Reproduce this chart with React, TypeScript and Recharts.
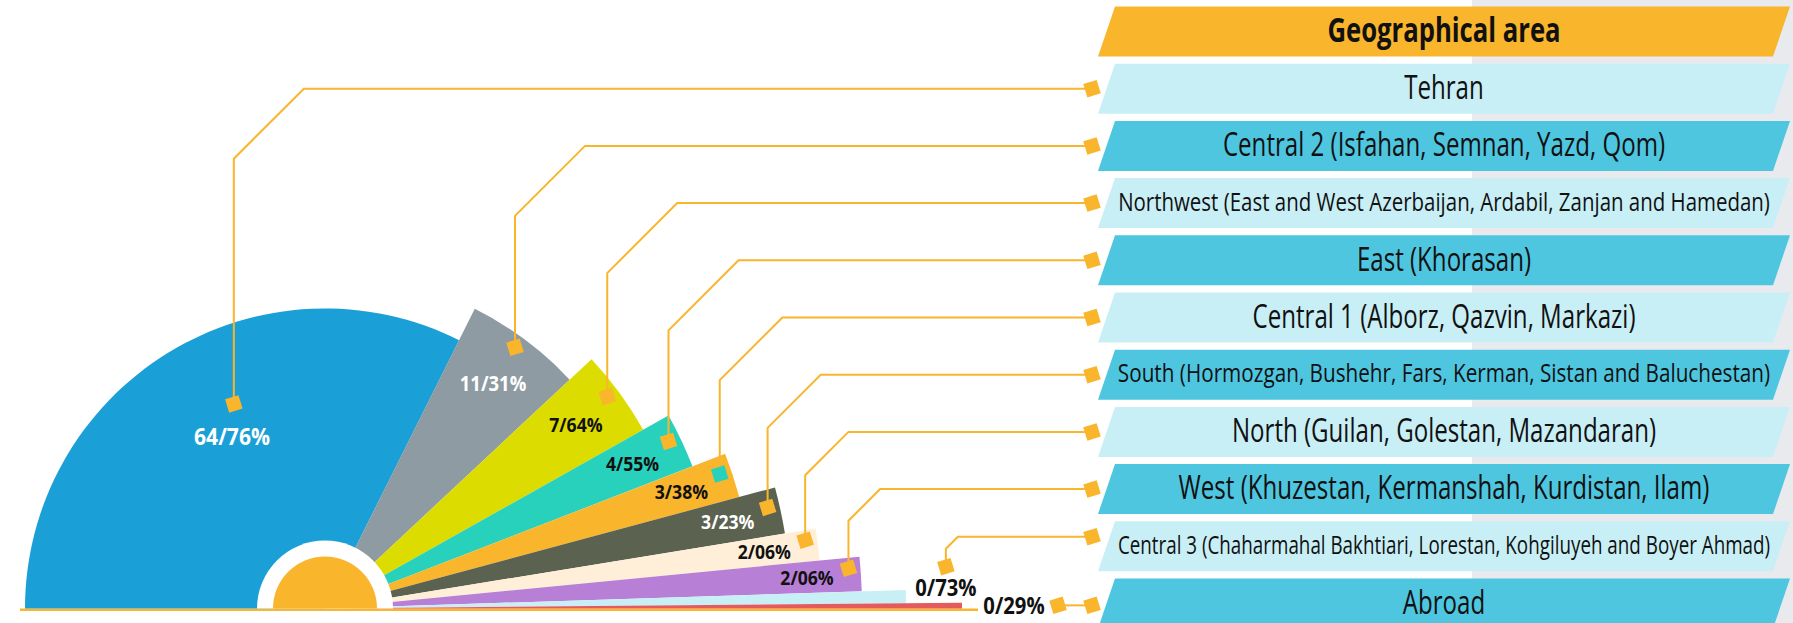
import React, { useLayoutEffect, useRef, useState } from 'react';
import { PieChart, Pie, Cell } from 'recharts';

// share of respondents by geographical area (decimal separator shown as "/")
const AREAS = [
  'Tehran',
  'Central 2 (Isfahan, Semnan, Yazd, Qom)',
  'Northwest (East and West Azerbaijan, Ardabil, Zanjan and Hamedan)',
  'East (Khorasan)',
  'Central 1 (Alborz, Qazvin, Markazi)',
  'South (Hormozgan, Bushehr, Fars, Kerman, Sistan and Baluchestan)',
  'North (Guilan, Golestan, Mazandaran)',
  'West (Khuzestan, Kermanshah, Kurdistan, Ilam)',
  'Central 3 (Chaharmahal Bakhtiari, Lorestan, Kohgiluyeh and Boyer Ahmad)',
  'Abroad',
];
const SHARES = [64.76, 11.31, 7.64, 4.55, 3.38, 3.23, 2.06, 2.06, 0.73, 0.29];
const HEADER_TITLE = 'Geographical area';

// styling
const SECTOR_COLORS = ['#1a9fd6', '#8e9ba2', '#dcdc00', '#27d1bb', '#f9b52c', '#5b6350', '#ffefd8', '#b77fd6', '#c9eff6', '#e35b5b'];
const SECTOR_RADII = [300, 335, 365, 394, 429, 466, 497, 537, 581, 637];
const LABEL_SIZES = [24, 21, 20, 20, 20, 20, 20, 20, 23, 23];
const WHITE_LABELS = [0, 1, 5];

const W = 1793;
const H = 623;
const CX = 325;
const CY = 608.5;

const ORANGE = '#f9b52c';
const LIGHT = '#c9eff6';
const DARK = '#4fc6e0';
const FONT = "'Open Sans', 'Noto Sans', sans-serif";

const TABLE_X = 1098;
const SLANT = 17;
const ROW_W = 675;
const ROW_TOP = 6.5;
const PITCH = 57.2;
const ROW_H = 50;
const LINE_END = 1086;
const PIN_X = 1092;
const LONG_TEXT = 652; // long row labels are squeezed to this width

const pieData = AREAS.map((name, i) => ({ name, value: SHARES[i] }));

const RAD = Math.PI / 180;
const rowCenter = (k: number) => ROW_TOP + k * PITCH + ROW_H / 2;
const polar = (cx: number, cy: number, r: number, a: number): [number, number] => [
  cx + r * Math.cos(a * RAD),
  cy - r * Math.sin(a * RAD),
];
const fmt = (v: number) => `${v.toFixed(2).replace('.', '/')}%`;

function Pin({ x, y, fill = ORANGE }: { x: number; y: number; fill?: string }) {
  return <rect x={-7} y={-7} width={14} height={14} fill={fill} transform={`translate(${x},${y}) rotate(-17)`} />;
}

function Annotation(props: any) {
  const { cx, cy, midAngle, index, value } = props;
  const R = SECTOR_RADII[index];
  let lx: number, ly: number, mx: number, my: number;
  if (index === 0) {
    [lx, ly] = polar(cx, cy, R - 104, midAngle - 3.4);
    [mx, my] = polar(cx, cy, R - 76, midAngle - 7.7);
  } else if (index < 8) {
    [lx, ly] = polar(cx, cy, R - 54, midAngle);
    [mx, my] = polar(cx, cy, R - 12, midAngle + 0.7);
  } else if (index === 8) {
    [lx, ly] = polar(cx, cy, R + 40, midAngle);
    ly -= 8;
    mx = lx;
    my = ly - 21;
  } else {
    [lx, ly] = polar(cx, cy, R + 52, midAngle);
    mx = lx + 44;
    my = ly;
  }
  let d: string;
  let lineY: number;
  if (index === 9) {
    lineY = my;
    d = `M${mx},${my}H${LINE_END}`;
  } else {
    lineY = Math.min(rowCenter(index + 1), my - 30);
    const b = Math.min(70, 0.4 * (my - lineY));
    d = `M${mx},${my}V${lineY + b}L${mx + b},${lineY}H${LINE_END}`;
  }
  const F = LABEL_SIZES[index];
  return (
    <g>
      <path d={d} stroke={ORANGE} strokeWidth={2} fill="none" />
      <Pin x={mx} y={my} fill={index === 4 ? SECTOR_COLORS[3] : ORANGE} />
      <Pin x={PIN_X} y={lineY} />
      <text
        transform={`translate(${lx},${ly + 0.357 * F}) scale(0.88,1)`}
        textAnchor="middle"
        fontSize={F}
        fontWeight={700}
        fontFamily={FONT}
        fill={WHITE_LABELS.includes(index) ? '#ffffff' : '#111111'}
      >
        {fmt(value)}
      </text>
    </g>
  );
}

// squeezes a label horizontally so it spans the given width
function FitText({ x, y, width, fontSize, children }: { x: number; y: number; width: number; fontSize: number; children: string }) {
  const ref = useRef<SVGTextElement>(null);
  const [sx, setSx] = useState(0.73);
  useLayoutEffect(() => {
    const el = ref.current;
    if (!el) return;
    const natural = el.getComputedTextLength();
    if (natural > 0) setSx(width / natural);
  }, [width, children]);
  return (
    <text
      ref={ref}
      transform={`translate(${x},${y}) scale(${sx},1)`}
      textAnchor="middle"
      fontSize={fontSize}
      fontWeight={500}
      fontFamily={FONT}
      fill="#111111"
    >
      {children}
    </text>
  );
}

function Table() {
  const rows = [HEADER_TITLE, ...AREAS];
  return (
    <>
      {rows.map((text, k) => {
        const top = ROW_TOP + k * PITCH;
        const bottom = top + ROW_H;
        const pts = `${TABLE_X + SLANT},${top} ${TABLE_X + SLANT + ROW_W},${top} ${TABLE_X + ROW_W},${bottom} ${TABLE_X},${bottom}`;
        const header = k === 0;
        const long = text.length > 55;
        const fill = header ? ORANGE : k % 2 === 1 ? LIGHT : DARK;
        const F = header ? 34 : long ? 26 : 33;
        const tx = TABLE_X + (SLANT + ROW_W) / 2;
        const ty = top + ROW_H / 2 - 1.5 + 0.357 * F;
        return (
          <g key={k}>
            <polygon points={pts} fill={fill} />
            {long ? (
              <FitText x={tx} y={ty} width={LONG_TEXT} fontSize={F}>
                {text}
              </FitText>
            ) : (
              <text
                transform={`translate(${tx},${ty}) scale(${header ? 0.755 : 0.73},1)`}
                textAnchor="middle"
                fontSize={F}
                fontWeight={header ? 700 : 500}
                fontFamily={FONT}
                fill="#111111"
              >
                {text}
              </text>
            )}
          </g>
        );
      })}
    </>
  );
}

export default function App() {
  return (
    <div style={{ position: 'absolute', left: 0, top: 0, width: W, height: H, background: '#ffffff', overflow: 'hidden' }}>
      <svg width={W} height={H} style={{ position: 'absolute', left: 0, top: 0 }}>
        <rect x={1472} y={0} width={W - 1472} height={H} fill="#e9eaee" />
        <line x1={20} x2={978} y1={609.8} y2={609.8} stroke={ORANGE} strokeWidth={2.5} />
        <Table />
      </svg>
      <div style={{ position: 'absolute', left: 0, top: 0 }}>
        <PieChart width={W} height={H} margin={{ top: 0, right: 0, bottom: 0, left: 0 }}>
          {SECTOR_RADII.map((r, i) => (
            <Pie
              key={`s${i}`}
              data={pieData}
              dataKey="value"
              nameKey="name"
              cx={CX}
              cy={CY}
              startAngle={180}
              endAngle={0}
              innerRadius={0}
              outerRadius={r}
              stroke="none"
              isAnimationActive={false}
            >
              {pieData.map((_, j) => (
                <Cell key={j} fill={j === i ? SECTOR_COLORS[j] : 'none'} />
              ))}
            </Pie>
          ))}
          <Pie
            data={[{ name: 'ring', value: 1 }]}
            dataKey="value"
            cx={CX}
            cy={CY}
            startAngle={180}
            endAngle={0}
            outerRadius={68}
            fill="#ffffff"
            stroke="none"
            isAnimationActive={false}
          />
          <Pie
            data={[{ name: 'sun', value: 1 }]}
            dataKey="value"
            cx={CX}
            cy={CY}
            startAngle={180}
            endAngle={0}
            outerRadius={52}
            fill={ORANGE}
            stroke="none"
            isAnimationActive={false}
          />
          <Pie
            data={pieData}
            dataKey="value"
            nameKey="name"
            cx={CX}
            cy={CY}
            startAngle={180}
            endAngle={0}
            outerRadius={SECTOR_RADII[0]}
            fill="none"
            stroke="none"
            isAnimationActive={false}
            labelLine={false}
            label={(p: any) => <Annotation {...p} />}
          />
        </PieChart>
      </div>
    </div>
  );
}
